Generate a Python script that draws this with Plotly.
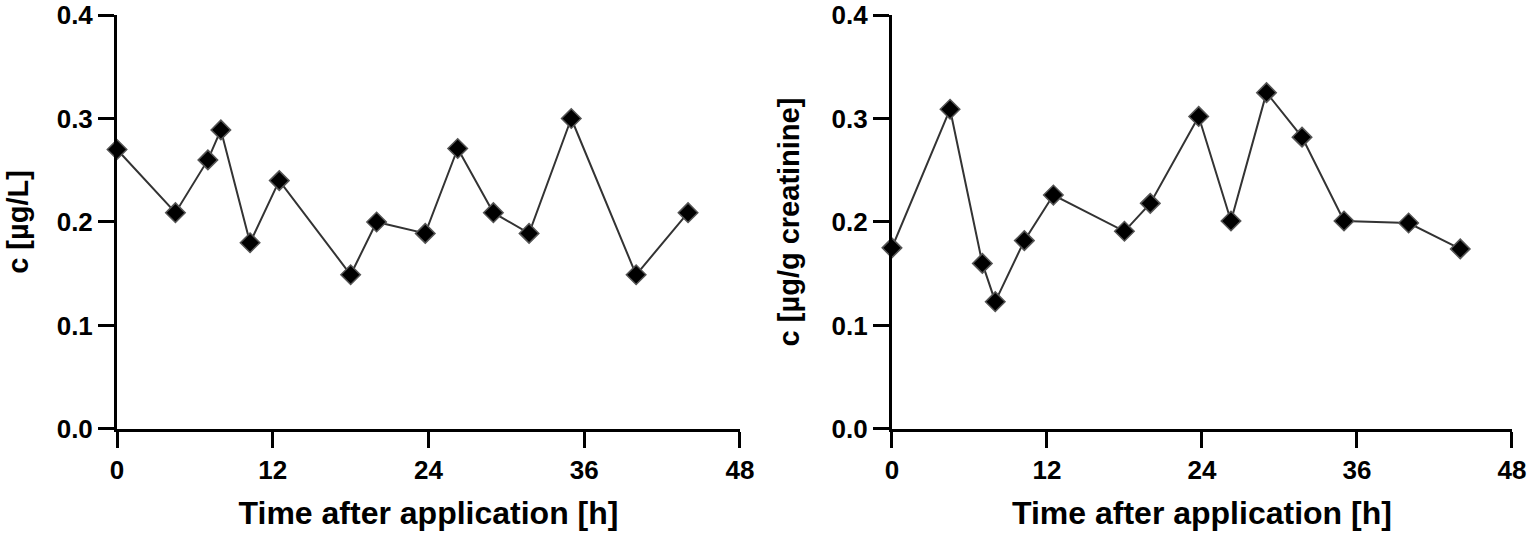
import plotly.graph_objects as go

# sampling times [h] (same for both panels)
time_h = [0, 4.5, 7, 8, 10.25, 12.5, 18, 20, 23.75, 26.25, 29, 31.75, 35, 40, 44]

# concentration in urine, µg/L
conc_ugL = [0.270, 0.209, 0.260, 0.289, 0.180, 0.240, 0.149, 0.200, 0.189,
            0.271, 0.209, 0.189, 0.300, 0.149, 0.209]

# creatinine-adjusted concentration, µg/g creatinine
conc_ugg = [0.175, 0.309, 0.160, 0.123, 0.182, 0.226, 0.191, 0.218, 0.302,
            0.201, 0.325, 0.282, 0.201, 0.199, 0.174]

x_ticks = [0, 12, 24, 36, 48]
y_ticks = [0.0, 0.1, 0.2, 0.3, 0.4]
y_ticktext = ["0.0", "0.1", "0.2", "0.3", "0.4"]

FONT = "Liberation Sans"

marker = dict(symbol="diamond", size=15, color="black",
              line=dict(color="#555555", width=1.5))
line = dict(color="#333333", width=2)

fig = go.Figure()
fig.add_trace(go.Scatter(x=time_h, y=conc_ugL, mode="lines+markers",
                         marker=marker, line=line, xaxis="x", yaxis="y",
                         showlegend=False, cliponaxis=False))
fig.add_trace(go.Scatter(x=time_h, y=conc_ugg, mode="lines+markers",
                         marker=marker, line=line, xaxis="x2", yaxis="y2",
                         showlegend=False, cliponaxis=False))


def xaxis_style(domain, anchor):
    return dict(
        domain=domain, anchor=anchor, range=[0, 48], automargin=False,
        tickvals=x_ticks, ticks="outside", ticklen=16, tickwidth=3,
        tickcolor="black", showline=True, linewidth=3, linecolor="black",
        showgrid=False, zeroline=False,
        tickfont=dict(family=FONT, size=26, color="black", weight="bold"),
        title=dict(text="Time after application [h]", standoff=18,
                   font=dict(family=FONT, size=32, color="black", weight="bold")),
    )


def yaxis_style(anchor, title, standoff):
    return dict(
        domain=[0.2056, 0.9722], anchor=anchor, range=[0, 0.4], automargin=False,
        tickvals=y_ticks, ticktext=y_ticktext, ticks="outside", ticklen=16,
        tickwidth=3, tickcolor="black", showline=True, linewidth=3,
        linecolor="black", showgrid=False, zeroline=False,
        tickfont=dict(family=FONT, size=26, color="black", weight="bold"),
        title=dict(text=title, standoff=standoff,
                   font=dict(family=FONT, size=29, color="black", weight="bold")),
    )


fig.update_layout(
    width=1532, height=540,
    margin=dict(l=0, r=0, t=0, b=0),
    paper_bgcolor="white", plot_bgcolor="white",
    xaxis=xaxis_style([0.0764, 0.4830], "y"),
    yaxis=yaxis_style("x", "c [µg/L]", 20),
    xaxis2=xaxis_style([0.5822, 0.9869], "y2"),
    yaxis2=yaxis_style("x2", "c [µg/g creatinine]", 24),
)

# drop the default body margin so the figure sits at the page corner
fig.write_html("out.html", config={"displayModeBar": False},
               post_script="document.body.style.margin = '0';")
